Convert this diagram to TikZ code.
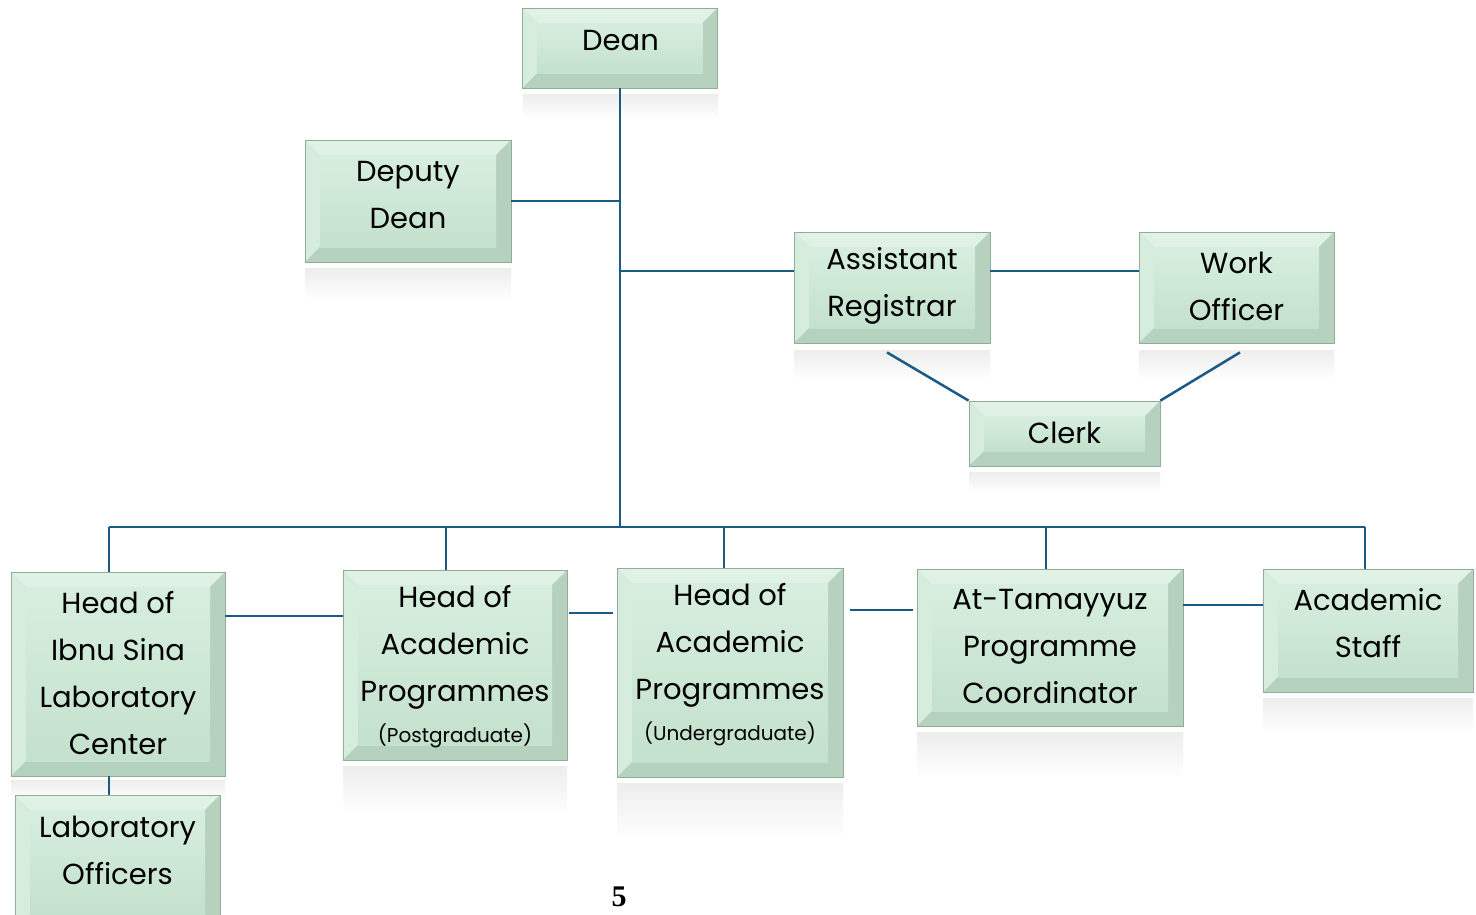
\documentclass[tikz,border=0pt]{standalone}
\usepackage{fontspec}
\setmainfont{Poppins}
\newfontfamily\pnumfont{Liberation Serif}
\usetikzlibrary{calc}
\definecolor{lineblue}{HTML}{1B5A82}
\definecolor{boxedge}{HTML}{8FAE99}
\definecolor{bevT}{HTML}{E0F1E5}
\definecolor{bevL}{HTML}{D6ECDD}
\definecolor{bevB}{HTML}{B4D2BD}
\definecolor{bevR}{HTML}{B6D2BF}
\definecolor{innerTop}{HTML}{D7EEDE}
\definecolor{innerBot}{HTML}{C4E1CD}
\def\bv{15pt}
\tikzset{
  x=1pt, y=-1pt,
  conn/.style={draw=lineblue, line width=2.5pt},
  bevbox/.style={draw=boxedge, line width=0.8pt, fill=innerBot, inner sep=0pt,
    path picture={
      \coordinate (pnw) at (path picture bounding box.north west);
      \coordinate (pne) at (path picture bounding box.north east);
      \coordinate (psw) at (path picture bounding box.south west);
      \coordinate (pse) at (path picture bounding box.south east);
      \fill[bevT] (pnw) -- (pne) -- ($(pne)+(-\bv,-\bv)$) -- ($(pnw)+(\bv,-\bv)$) -- cycle;
      \fill[bevL] (pnw) -- (psw) -- ($(psw)+(\bv,\bv)$) -- ($(pnw)+(\bv,-\bv)$) -- cycle;
      \fill[bevB] (psw) -- (pse) -- ($(pse)+(-\bv,\bv)$) -- ($(psw)+(\bv,\bv)$) -- cycle;
      \fill[bevR] (pne) -- (pse) -- ($(pse)+(-\bv,\bv)$) -- ($(pne)+(-\bv,-\bv)$) -- cycle;
      \shade[top color=innerTop, bottom color=innerBot] ($(pnw)+(\bv,-\bv)$) rectangle ($(pse)+(-\bv,\bv)$);
    }},
  btxt/.style={align=center, inner sep=0pt, font=\fontsize{29}{47}\selectfont},
  refl/.style={top color=black!7, bottom color=white, draw=none}
}
\newcommand{\subline}[1]{{\fontsize{20}{24}\selectfont #1}}
\begin{document}
\begin{tikzpicture}
\useasboundingbox (0,0) rectangle (1476,914);
\fill[white] (0,0) rectangle (1476,914);

% reflections
\foreach \x/\ya/\yb/\w in {620.5/94/118/195, 408/268/300/206, 892/350/380/196, 1236.5/350/380/195, 1064.5/472/492/191, 455/766/815/224, 730/783/838/226, 1050/732/778/266, 1368/698/732/210, 118/780/800/214}{
  \shade[refl] (\x-\w/2,\ya) rectangle (\x+\w/2,\yb);
}

% named junction coordinates
\coordinate (bus) at (620,527);
\coordinate (busL) at (109,527);
\coordinate (busR) at (1365,527);
\coordinate (jdep) at (620,201);
\coordinate (jar) at (620,271);

% boxes
\node[bevbox, minimum width=195pt, minimum height=80pt] (dean) at (620,48) {};
\node[bevbox, minimum width=206pt, minimum height=122pt] (deputy) at (408,201) {};
\node[bevbox, minimum width=196pt, minimum height=111pt] (ar) at (892,287.5) {};
\node[bevbox, minimum width=195pt, minimum height=111pt] (wo) at (1236.5,287.5) {};
\node[bevbox, minimum width=191pt, minimum height=65pt] (clerk) at (1064.5,433.5) {};
\node[bevbox, minimum width=214pt, minimum height=204pt] (ibnu) at (118,674) {};
\node[bevbox, minimum width=205pt, minimum height=135pt] (lab) at (117.5,862.5) {};
\node[bevbox, minimum width=224pt, minimum height=190pt] (pg) at (455,665) {};
\node[bevbox, minimum width=226pt, minimum height=209pt] (ug) at (730,672.5) {};
\node[bevbox, minimum width=266pt, minimum height=157pt] (tam) at (1050,647.5) {};
\node[bevbox, minimum width=210pt, minimum height=123pt] (staff) at (1368,630.5) {};

% texts
\node[btxt] (deant) at (620.5,41) {Dean};
\node[btxt] (deputyt) at (408,195) {Deputy\\Dean};
\node[btxt] (art) at (892,286) {Assistant\\Registrar};
\node[btxt] (wot) at (1236.5,286) {Work\\Officer};
\node[btxt] (clerkt) at (1064.5,433) {Clerk};
\node[btxt] (ibnut) at (118,673) {Head of\\Ibnu Sina\\Laboratory\\Center};
\node[btxt] (labt) at (117.5,850) {Laboratory\\Officers};
\node[btxt] (pgt) at (455,667) {Head of\\Academic\\Programmes\\[-6pt]\subline{(Postgraduate)}};
\node[btxt] (ugt) at (730,665) {Head of\\Academic\\Programmes\\[-6pt]\subline{(Undergraduate)}};
\node[btxt] (tamt) at (1050,647) {At-Tamayyuz\\Programme\\Coordinator};
\node[btxt] (stafft) at (1368,623) {Academic\\Staff};

% connectors
\draw[conn] (dean.south) -- (bus);
\draw[conn] (busL) -- (busR);
\draw[conn] (deputy.east) -- (jdep);
\draw[conn] (jar) -- (ar.west |- jar);
\draw[conn] (ar.east |- jar) -- (wo.west |- jar);
\draw[conn] ($(ar.south)+(-5pt,-9pt)$) -- (clerk.north west);
\draw[conn] ($(wo.south)+(3.5pt,-9pt)$) -- (clerk.north east);
\draw[conn] (busL) -- (ibnu.north -| busL);
\draw[conn] (446,527) -- (pg.north -| 446,0);
\draw[conn] (724,527) -- (ug.north -| 724,0);
\draw[conn] (1046,527) -- (tam.north -| 1046,0);
\draw[conn] (busR) -- (staff.north -| busR);
\draw[conn] (ibnu.east |- 0,616) -- (pg.west |- 0,616);
\draw[conn] ($(pg.east |- 0,613)+(2pt,0)$) -- ($(ug.west |- 0,613)+(-4pt,0)$);
\draw[conn] ($(ug.east |- 0,610)+(7pt,0)$) -- ($(tam.west |- 0,610)+(-4pt,0)$);
\draw[conn] (tam.east |- 0,605) -- (staff.west |- 0,605);
\draw[conn] (ibnu.south -| busL) -- (lab.north -| busL);

\node[font=\pnumfont\bfseries\fontsize{30}{34}\selectfont, inner sep=0pt] (pnum) at (619,897) {5};
\end{tikzpicture}
\end{document}
